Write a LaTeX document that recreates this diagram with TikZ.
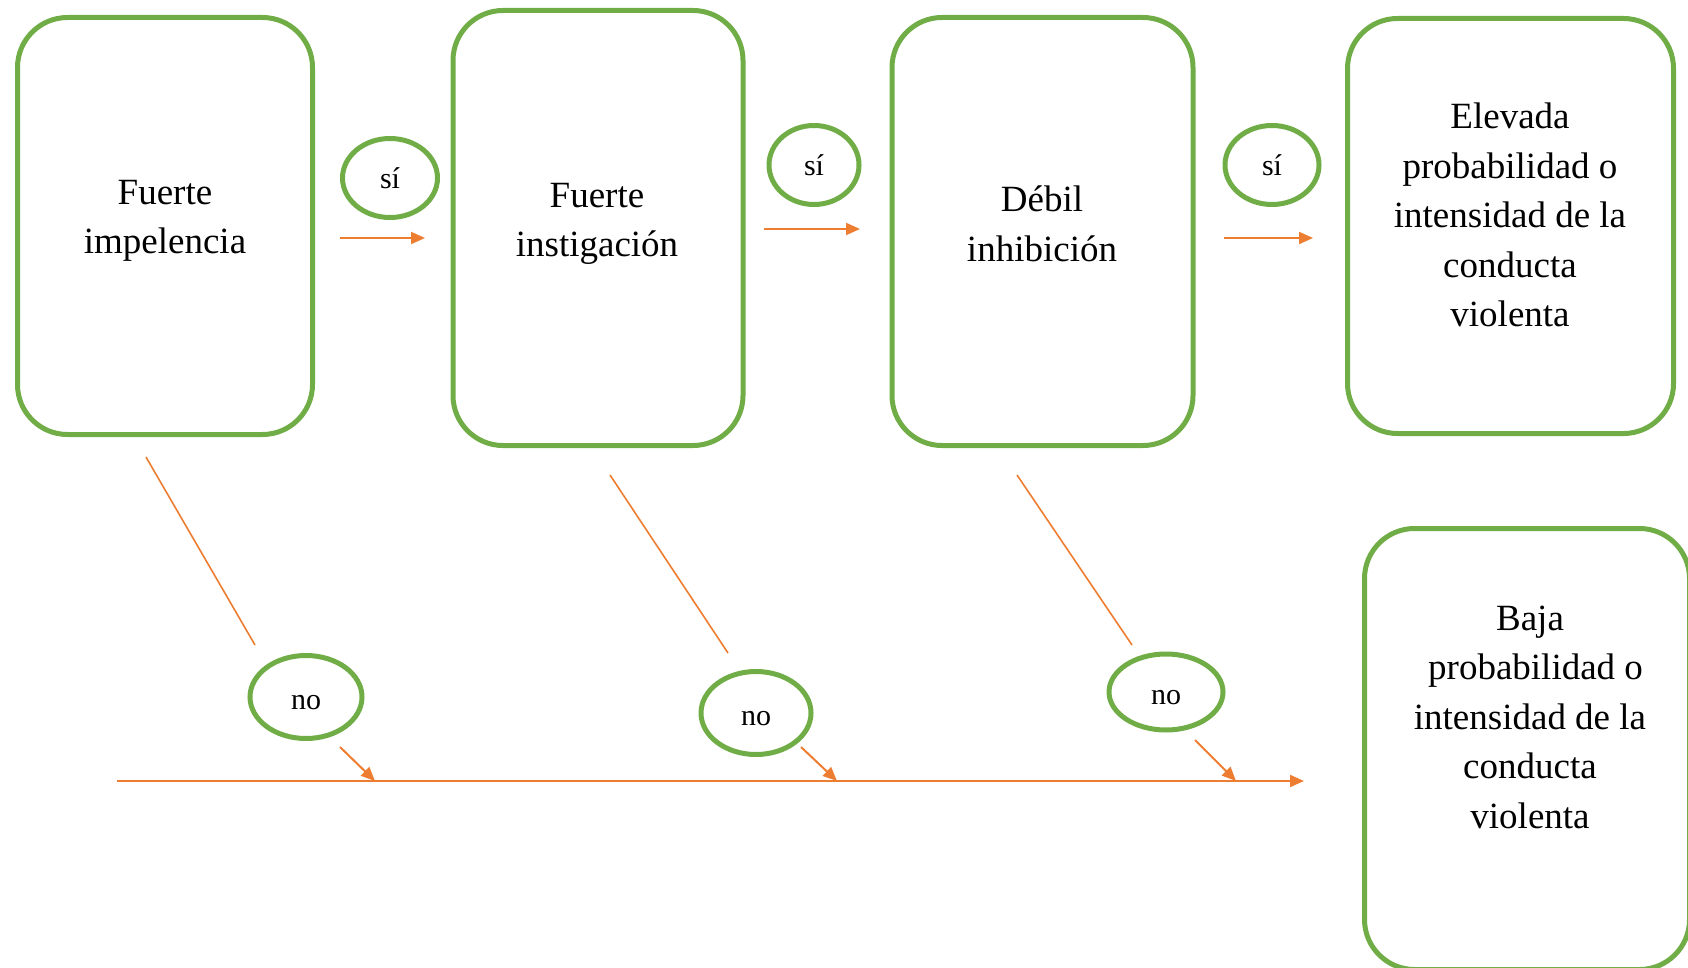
\documentclass[tikz,border=0pt]{standalone}
\usepackage{fontspec}
\setmainfont{Liberation Serif}
\usetikzlibrary{positioning,arrows.meta,shapes.geometric}
\definecolor{verde}{HTML}{70AD47}
\definecolor{naranja}{HTML}{ED7D31}

\begin{document}
\begin{tikzpicture}[x=1pt,y=-1pt,
  caja/.style={draw=verde,line width=5pt,rounded corners=50pt,inner sep=0pt},
  texto/.style={align=center,font=\fontsize{37}{49.5}\selectfont},
  ovalo/.style={ellipse,draw=verde,line width=5pt,inner sep=0pt,font=\fontsize{30}{36}\selectfont},
  rotulo/.style={font=\fontsize{30}{36}\selectfont,yshift=-6pt},
  flecha/.style={draw=naranja,line width=2pt,-{Triangle[length=14pt,width=12pt]}},
  linea/.style={draw=naranja,line width=1.6pt}]
\useasboundingbox (0,0) rectangle (1688,968);

% cajas
\node [caja,minimum width=295pt,minimum height=417pt] (impelencia) at (165,226) {};
\node [caja,minimum width=290pt,minimum height=435pt] (instigacion) at (598,228) {};
\node [caja,minimum width=301pt,minimum height=428pt] (inhibicion) at (1042.5,231.5) {};
\node [caja,minimum width=326pt,minimum height=415pt] (elevada) at (1510.5,226) {};
\node [caja,minimum width=325pt,minimum height=441pt] (baja) at (1527,749) {};

\node [texto] (t-impelencia) at (165,221) {Fuerte\\impelencia};
\node [texto] (t-instigacion) at (597,224) {Fuerte\\instigación};
\node [texto] (t-inhibicion) at (1042,224) {Débil\\inhibición};
\node [texto] (t-elevada) at (1510,215) {Elevada\\probabilidad o\\intensidad de la\\conducta\\violenta};
\node [texto] (t-baja) at (1530,717) {Baja\\\hspace*{0.3em}probabilidad o\\intensidad de la\\conducta\\violenta};

% si
\node [ovalo,minimum width=95pt,minimum height=79pt] (si1) at (390,178) {sí};
\node [ovalo,minimum width=90pt,minimum height=79pt] (si2) at (814,165) {sí};
\node [ovalo,minimum width=94pt,minimum height=79pt] (si3) at (1272,165) {sí};

\coordinate (s1a) at (340,238); \coordinate (s1b) at (425,238);
\coordinate (s2a) at (764,229); \coordinate (s2b) at (860,229);
\coordinate (s3a) at (1224,238); \coordinate (s3b) at (1313,238);
\draw [flecha] (s1a) -- (s1b);
\draw [flecha] (s2a) -- (s2b);
\draw [flecha] (s3a) -- (s3b);

% no
\node [ovalo,minimum width=112pt,minimum height=83pt,label={[rotulo]center:no}] (no1) at (306,697) {};
\node [ovalo,minimum width=110pt,minimum height=83pt,label={[rotulo]center:no}] (no2) at (756,713) {};
\node [ovalo,minimum width=114pt,minimum height=76pt,label={[rotulo]center:no}] (no3) at (1166,692) {};

\coordinate (d1a) at (146,457); \coordinate (d1b) at (255,645);
\coordinate (d2a) at (610,475); \coordinate (d2b) at (728,653);
\coordinate (d3a) at (1017,475); \coordinate (d3b) at (1132,645);
\draw [linea] (d1a) -- (d1b);
\draw [linea] (d2a) -- (d2b);
\draw [linea] (d3a) -- (d3b);

\coordinate (inicio) at (117,781); \coordinate (fin) at (1304,781);
\coordinate (m1) at (340,747); \coordinate (n1) at (375,781);
\coordinate (m2) at (801,747); \coordinate (n2) at (837,781);
\coordinate (m3) at (1195,740); \coordinate (n3) at (1236,781);
\draw [flecha] (inicio) -- (fin);
\draw [flecha] (m1) -- (n1);
\draw [flecha] (m2) -- (n2);
\draw [flecha] (m3) -- (n3);
\end{tikzpicture}
\end{document}
